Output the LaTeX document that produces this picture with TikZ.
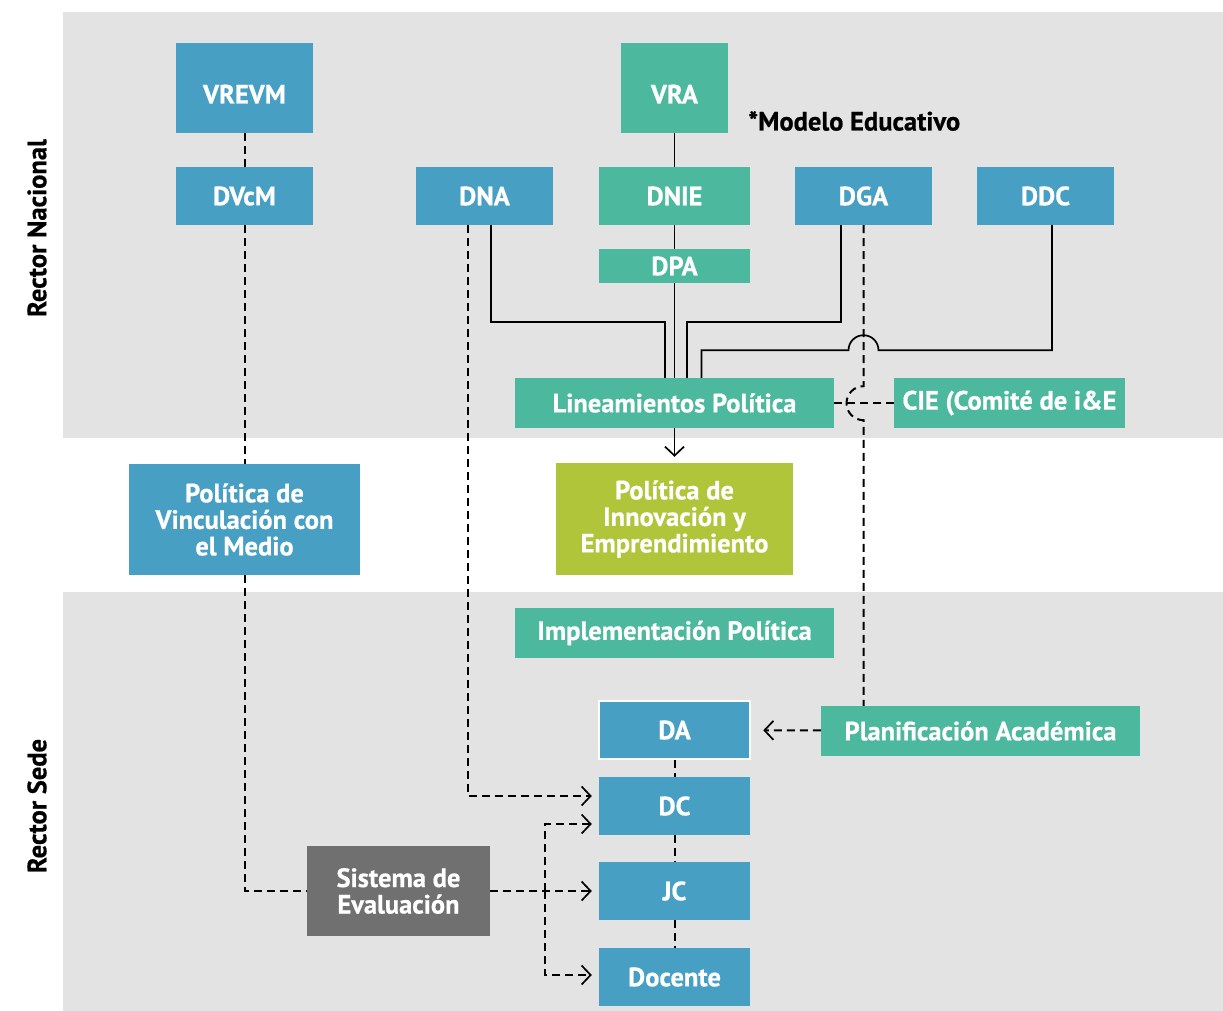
\documentclass[tikz,border=0pt]{standalone}
\usepackage{fontspec}
\setmainfont{PT Sans}[BoldFeatures={FakeBold=0.6}]
\usetikzlibrary{arrows.meta, positioning}

\definecolor{bandgray}{HTML}{E3E3E3}
\definecolor{boxblue}{HTML}{47A0C4}
\definecolor{boxgreen}{HTML}{4CB89E}
\definecolor{boxlime}{HTML}{B1C53B}
\definecolor{boxgray}{HTML}{707070}

\begin{document}
\begin{tikzpicture}[
        x=1pt, y=-1pt,
        every node/.style={font=\bfseries\fontsize{26.5}{26.5}\selectfont, text=white, align=center, inner sep=0pt},
        unit/.style={rectangle, minimum width=137pt, minimum height=58pt},
        bluebox/.style={unit, fill=boxblue},
        greenbox/.style={unit, fill=boxgreen},
        tallbox/.style={minimum height=90pt, text height=31pt, text depth=0pt},
        link/.style={draw=black, line width=1.7pt},
        dashlink/.style={draw=black, line width=2pt, dash pattern=on 8pt off 5pt},
        tip/.style={-{Straight Barb[length=9pt, width=19pt, line width=1.7pt]}, shorten >=7pt}
    ]
        \useasboundingbox (0,0) rectangle (1223,1011);

        % --- Bands (Background Layer) ---
        \fill[bandgray] (63,12) rectangle (1223,438);
        \fill[bandgray] (63,592) rectangle (1223,1011);
        \node[rotate=90, text=black] (nacional) at (37,228) {Rector Nacional};
        \node[rotate=90, text=black] (sede) at (37,806) {Rector Sede};

        % --- Rector Nacional ---
        \node[bluebox, tallbox] (VREVM) at (244.5,88) {VREVM};
        \node[bluebox] (DVcM) at (244.5,196) {DVcM};
        \node[bluebox] (DNA) at (484.5,196) {DNA};
        \node[greenbox, tallbox, minimum width=107pt] (VRA) at (674.5,88) {VRA};
        \node[text=black, anchor=west] (modelo) at (748,121) {*Modelo Educativo};
        \node[greenbox, minimum width=151pt] (DNIE) at (674.5,196) {DNIE};
        \node[greenbox, minimum width=151pt, minimum height=34pt] (DPA) at (674.5,266) {DPA};
        \node[bluebox] (DGA) at (863.5,196) {DGA};
        \node[bluebox] (DDC) at (1045.5,196) {DDC};
        \node[greenbox, minimum width=319pt, minimum height=50pt] (lineamientos) at (674.5,403) {Lineamientos Política};
        \node[greenbox, minimum width=231pt, minimum height=50pt] (CIE) at (1009.5,403) {CIE (Comité de i\&E};

        % --- Politicas ---
        \node[bluebox, minimum width=231pt, minimum height=111pt] (vinculacion) at (244.5,519.5) {Política de\\Vinculación con\\el Medio};
        \node[unit, fill=boxlime, minimum width=237pt, minimum height=112pt] (innovacion) at (674.5,519) {Política de\\Innovación y\\Emprendimiento};

        % --- Rector Sede ---
        \node[greenbox, minimum width=319pt, minimum height=50pt] (implementacion) at (674.5,633) {Implementación Política};
        \node[bluebox, draw=white, line width=2.5pt, minimum width=151pt, minimum height=58pt] (DA) at (674.5,730) {DA};
        \node[greenbox, minimum width=319pt, minimum height=50pt] (planificacion) at (980.5,731) {Planificación Académica};
        \node[bluebox, minimum width=151pt] (DC) at (674.5,806) {DC};
        \node[bluebox, minimum width=151pt] (JC) at (674.5,891) {JC};
        \node[bluebox, minimum width=151pt] (docente) at (674.5,977) {Docente};
        \node[unit, fill=boxgray, minimum width=183pt, minimum height=90pt] (sistema) at (398.5,891) {Sistema de\\Evaluación};

        % --- Solid lines (VRA branch) ---
        \draw[link] (VRA) -- (DNIE);
        \draw[link] (DNIE) -- (DPA);
        \draw[link] (DPA) -- (lineamientos);
        \draw[link, tip, shorten >=6pt] (lineamientos) -- (innovacion);
        \draw[link] ([xshift=6.5pt]DNA.south) -- ++(0,96.5) -| ([xshift=-9.5pt]lineamientos.north);
        \draw[link] ([xshift=-22.5pt]DGA.south) -- ++(0,96.5) -| ([xshift=12.5pt]lineamientos.north);
        % DDC jumps over the DGA dashed line
        \draw[link] ([xshift=6.5pt]DDC.south) -- ++(0,125) -- ++(-173.5,0)
            arc[start angle=0, end angle=180, radius=15pt] -| ([xshift=27pt]lineamientos.north);

        % --- Dashed lines ---
        \draw[dashlink] (VREVM) -- (DVcM);
        \draw[dashlink] (DVcM) -- (vinculacion);
        \draw[dashlink] (vinculacion.south) |- (sistema.west);
        \draw[dashlink] (DGA.south) -- ++(0,161)
            arc[start angle=90, end angle=270, radius=17pt] -- (DGA.south |- planificacion.north);
        \draw[dashlink] (CIE) -- (lineamientos);
        \draw[dashlink, tip, shorten >=12pt] (planificacion) -- (DA);
        \draw[dashlink] (DA) -- (DC);
        \draw[dashlink] (DC) -- (JC);
        \draw[dashlink] (JC) -- (docente);
        \draw[dashlink, tip] ([xshift=-16.5pt]DNA.south) |- ([yshift=10pt]DC.west);
        \coordinate (split) at (545,891);
        \draw[dashlink, tip] (sistema) -- (JC);
        \draw[dashlink, tip] (split) |- ([yshift=-18pt]DC.west);
        \draw[dashlink, tip] (split) |- ([yshift=2pt]docente.west);

    \end{tikzpicture}
\end{document}
